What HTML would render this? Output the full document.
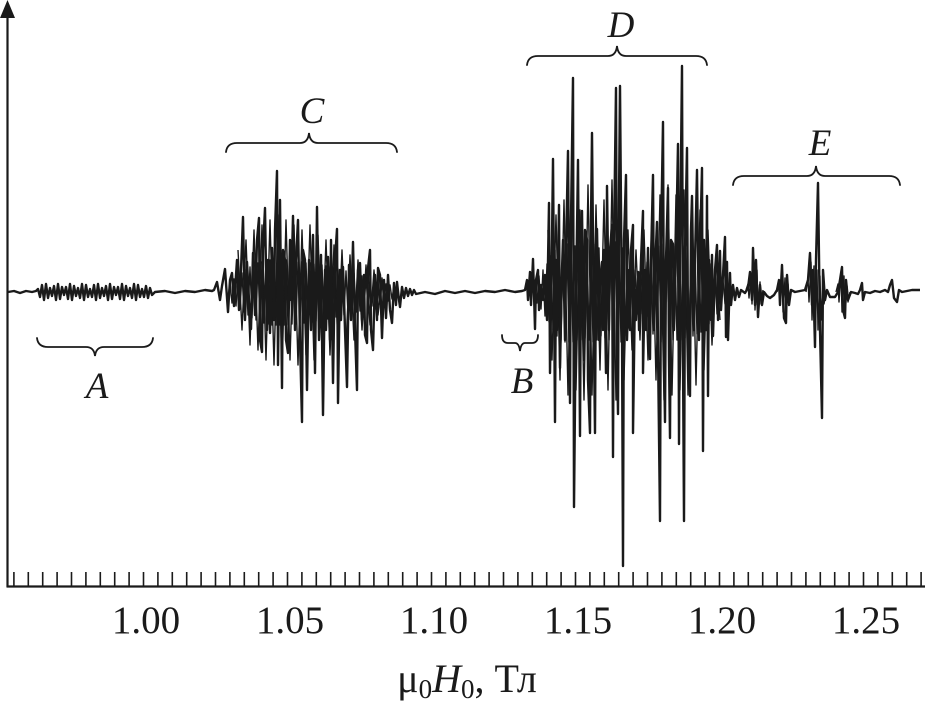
<!DOCTYPE html>
<html>
<head>
<meta charset="utf-8">
<style>
html,body{margin:0;padding:0;background:#fff;}
svg{display:block;}
text{font-family:"Liberation Serif","Times New Roman","DejaVu Serif",serif;fill:#1a1a1a;}
</style>
</head>
<body>
<svg width="925" height="708" viewBox="0 0 925 708" xmlns="http://www.w3.org/2000/svg" font-family="'Liberation Serif', 'Times New Roman', serif">
<!-- axes -->
<line x1="7.5" y1="14" x2="7.5" y2="587" stroke="#1a1a1a" stroke-width="2.2"/>
<polygon points="7.5,0 0,18 15,18" fill="#1a1a1a"/>
<line x1="6.5" y1="586.5" x2="925" y2="586.5" stroke="#1a1a1a" stroke-width="2.2"/>
<path stroke="#1a1a1a" stroke-width="1.6" fill="none" d="M13.9 572V586M28.3 572V586M42.7 572V586M57.1 572V586M71.5 572V586M85.9 572V586M100.3 572V586M114.7 572V586M129.1 572V586M143.5 572V586M157.9 572V586M172.3 572V586M186.7 572V586M201.1 572V586M215.5 572V586M229.9 572V586M244.3 572V586M258.7 572V586M273.1 572V586M287.5 572V586M301.9 572V586M316.3 572V586M330.7 572V586M345.1 572V586M359.5 572V586M373.9 572V586M388.3 572V586M402.7 572V586M417.1 572V586M431.5 572V586M445.9 572V586M460.3 572V586M474.7 572V586M489.1 572V586M503.5 572V586M517.9 572V586M532.3 572V586M546.7 572V586M561.1 572V586M575.5 572V586M589.9 572V586M604.3 572V586M618.7 572V586M633.1 572V586M647.5 572V586M661.9 572V586M676.3 572V586M690.7 572V586M705.1 572V586M719.5 572V586M733.9 572V586M748.3 572V586M762.7 572V586M777.1 572V586M791.5 572V586M805.9 572V586M820.3 572V586M834.7 572V586M849.1 572V586M863.5 572V586M877.9 572V586M892.3 572V586M906.7 572V586M921.1 572V586"/>

<!-- tick labels -->
<g font-size="39" text-anchor="middle" font-family="'Liberation Serif', 'Times New Roman', serif">
<text x="146" y="633">1.00</text>
<text x="290" y="633">1.05</text>
<text x="434" y="633">1.10</text>
<text x="578" y="633">1.15</text>
<text x="722" y="633">1.20</text>
<text x="866" y="633">1.25</text>
</g>
<!-- axis title -->
<text x="467" y="692" font-size="40" text-anchor="middle" font-family="'Liberation Serif', 'Times New Roman', serif">μ<tspan font-size="27" dy="6">0</tspan><tspan font-style="italic" dy="-6">H</tspan><tspan font-size="27" dy="6">0</tspan><tspan dy="-6">, Тл</tspan></text>

<!-- medium amplitude layer -->
<path fill="none" stroke="#1a1a1a" stroke-width="1.4" stroke-linejoin="round" d="M238 250 L242 330 L246 240 L250 345 L254 230 L258 350 L262 225 L266 360 L270 220 L274 365 L278 215 L282 370 L286 220 L290 360 L294 225 L298 365 L302 230 L306 355 L310 225 L314 360 L318 235 L322 350 L326 240 L330 355 L334 245 L338 345 L342 250 L346 345 L350 255 L354 340 L358 260 L362 330 L366 265 L370 325 L374 270 L378 315 L382 278 L386 308
M548 230 L552 360 L556 215 L560 380 L564 200 L568 395 L572 190 L576 390 L580 210 L584 400 L588 185 L592 395 L596 205 L600 370 L604 200 L608 390 L612 180 L616 400 L620 190 L624 380 L628 230 L632 350 L636 250 L640 340 L644 230 L648 360 L652 210 L656 380 L660 195 L664 400 L668 185 L672 395 L676 195 L680 390 L684 190 L688 395 L692 200 L696 385 L700 210 L704 370 L708 230 L712 345 L716 255 L720 320"/>

<!-- waveform core fill (dense oscillations) -->
<path fill="none" stroke="#1a1a1a" stroke-width="1.4" stroke-linejoin="round" d="M226 286 L228 299 L230 282 L232 303 L234 279 L236 306 L238 276 L240 309 L242 273 L244 312 L246 270 L248 315 L250 267 L252 318 L254 265 L256 320 L258 263 L260 322 L262 262 L264 323 L266 261 L268 324 L270 260 L272 325 L274 260 L276 325 L278 260 L280 325 L282 260 L284 325 L286 260 L288 325 L290 261 L292 324 L294 261 L296 324 L298 262 L300 323 L302 262 L304 323 L306 263 L308 322 L310 263 L312 322 L314 264 L316 321 L318 264 L320 321 L322 265 L324 320 L326 266 L328 319 L330 267 L332 318 L334 268 L336 317 L338 269 L340 316 L342 270 L344 315 L346 271 L348 314 L350 272 L352 313 L354 273 L356 312 L358 274 L360 311 L362 276 L364 309 L366 277 L368 308 L370 278 L372 306 L374 280 L376 305 L378 281 L380 304 L382 282 L384 302 L386 284 L388 301 L390 285 L392 299 L394 287 L396 297
M535 282 L537 303 L539 276 L541 309 L543 270 L545 316 L547 264 L549 322 L551 256 L553 330 L555 250 L557 336 L559 246 L561 340 L563 244 L565 342 L567 244 L569 342 L571 244 L573 342 L575 246 L577 340 L579 246 L581 340 L583 248 L585 338 L587 246 L589 340 L591 244 L593 342 L595 244 L597 340 L599 248 L601 336 L603 250 L605 338 L607 246 L609 340 L611 244 L613 342 L615 242 L617 344 L619 244 L621 342 L623 248 L625 336 L627 256 L629 328 L631 264 L633 318 L635 270 L637 314 L639 272 L641 314 L643 270 L645 318 L647 262 L649 326 L651 256 L653 334 L655 250 L657 340 L659 246 L661 342 L663 244 L665 344 L667 244 L669 342 L671 246 L673 340 L675 246 L677 340 L679 246 L681 340 L683 246 L685 338 L687 248 L689 338 L691 250 L693 336 L695 252 L697 334 L699 254 L701 332 L703 256 L705 328 L707 260 L709 324 L711 264 L713 320 L715 270 L717 314 L719 276 L721 308 L723 280 L725 304 L727 284 L729 300
M746 290 L748 284 L749 298 L751 276 L752 304 L754 262 L755 310 L757 270 L758 312 L760 282 L761 304 L763 290
M777 292 L779 284 L780 300 L782 272 L783 312 L785 278 L786 318 L788 284 L789 304 L791 292
M806 292 L808 278 L809 302 L811 262 L812 320 L814 266 L815 340 L817 270 L818 330 L820 276 L821 320 L823 282 L824 304 L826 292
M836 292 L838 284 L839 302 L841 272 L842 312 L844 276 L845 316 L847 286 L848 302 L850 292"/>

<!-- waveform -->
<path fill="none" stroke="#1a1a1a" stroke-width="2.4" stroke-linejoin="round" d="M8 292 L14 291 L20 293 L26 291 L32 292 L36 291
L38 289 L40 297 L42 285 L44 300 L46 284 L48 298 L50 288 L52 296 L54 286 L56 300 L58 284 L60 299 L62 287 L64 295 L66 287 L68 299 L70 284 L72 300 L74 286 L76 296 L78 288 L80 298 L82 284 L84 300 L86 285 L88 297 L90 289 L92 297 L94 285 L96 300 L98 284 L100 298 L102 288 L104 296 L106 286 L108 300 L110 284 L112 299 L114 287 L116 295 L118 287 L120 299 L122 284 L124 300 L126 286 L128 296 L130 288 L132 298 L134 284 L136 300 L138 285 L140 297 L142 289 L144 297 L146 286 L148 298 L150 288 L152 295 L155 292
L165 291 L175 293 L185 291 L195 292 L205 290 L212 291
L214 290 L217 282 L220 300 L222 286 L225 269 L228 312 L230 280 L232 273 L234 306 L237 260 L239 310 L241 270 L243 217 L245 320 L247 262 L249 300 L251 329 L253 253 L255 315 L257 240 L259 218 L260 340 L262 352 L263 250 L265 208 L267 330 L268 260 L270 333 L272 248 L274 320 L275 230 L277 171 L278 365 L280 200 L282 388 L283 250 L285 260 L286 340 L288 353 L290 240 L291 300 L293 216 L295 330 L296 260 L298 220 L300 340 L302 422 L303 250 L305 260 L307 390 L309 260 L311 330 L313 235 L315 373 L317 207 L319 340 L321 255 L323 415 L325 270 L326 330 L328 257 L330 340 L331 240 L333 383 L335 260 L337 229 L338 403 L340 270 L341 320 L343 267 L345 330 L347 387 L349 265 L351 320 L353 242 L355 330 L357 390 L358 270 L360 263 L362 320 L364 275 L365 335 L367 343 L368 268 L370 250 L371 330 L373 350 L375 275 L377 320 L378 268 L380 275 L382 338 L384 280 L386 318 L388 275 L390 310 L392 323 L394 283 L396 305 L397 282 L399 300 L400 307 L402 287 L404 298 L406 288 L408 296 L410 289 L412 295 L414 290 L416 294
L425 292 L435 294 L445 291 L455 293 L465 291 L475 293 L485 291 L495 292 L505 290 L515 292 L522 291
L525 290 L527 280 L528 300 L530 272 L531 305 L533 259 L535 329 L536 280 L538 270 L539 310 L541 285 L543 300 L545 275 L547 320 L549 203 L550 373 L552 240 L553 159 L555 422 L556 260 L557 330 L559 205 L560 368 L562 270 L563 240 L565 340 L566 250 L568 151 L570 403 L571 220 L573 78 L574 507 L576 300 L578 160 L580 436 L581 250 L582 211 L584 360 L585 230 L587 240 L588 380 L590 433 L591 220 L592 133 L594 350 L595 433 L596 250 L597 229 L599 340 L600 280 L602 262 L603 330 L604 250 L606 373 L607 186 L609 330 L610 250 L612 225 L613 457 L614 240 L616 88 L617 350 L618 414 L619 200 L620 86 L622 330 L623 566 L624 240 L626 175 L627 340 L629 270 L630 330 L631 250 L633 225 L633 433 L635 290 L636 320 L638 272 L639 330 L641 260 L643 211 L643 373 L645 270 L646 330 L648 248 L649 340 L650 359 L651 260 L653 175 L654 330 L655 270 L657 222 L658 350 L660 521 L661 240 L663 122 L664 360 L665 422 L666 260 L668 188 L669 360 L670 438 L671 240 L673 244 L674 330 L676 250 L678 144 L679 444 L680 250 L682 66 L683 360 L684 521 L685 250 L687 148 L688 340 L690 396 L691 230 L692 196 L694 330 L695 260 L697 170 L699 340 L700 250 L702 168 L703 451 L704 240 L706 330 L707 196 L708 396 L709 260 L711 320 L712 255 L713 336 L715 270 L717 245 L718 320 L720 251 L721 310 L723 275 L725 237 L726 337 L727 262 L728 340 L730 273 L731 305 L733 285 L735 300 L737 288 L739 297 L741 290
L745 293 L748 288 L750 272 L752 300 L753 248 L755 305 L756 260 L758 317 L760 285 L762 305 L764 292 L767 296 L770 298 L774 295 L777 290 L779 280 L780 305 L782 265 L784 318 L786 323 L787 275 L789 305 L791 290 L795 292 L800 291 L805 290 L808 280 L810 253 L812 305 L813 270 L815 347 L816 260 L818 183 L820 330 L822 418 L823 270 L825 300 L827 290 L830 297 L835 297 L838 292 L840 280 L842 267 L843 310 L845 318 L846 280 L848 300 L851 292 L855 293 L858 294 L860 290 L862 283 L863 300 L865 292 L870 293 L875 291 L880 292 L885 290 L888 292 L890 285 L892 280 L894 298 L897 302 L899 290 L902 292 L907 291 L912 290 L920 290"/>

<!-- braces -->
<g fill="none" stroke="#1a1a1a" stroke-width="1.8" stroke-linecap="round">
<path d="M37 338 Q38 347 48 347 L86 347 Q94 347 95 356 Q96 347 104 347 L142 347 Q152 347 153 338"/>
<path d="M502 335 Q502 343 508 343 L515 343 Q519 343 520 351 Q521 343 525 343 L532 343 Q538 343 538 335"/>
<path d="M226 152 Q227 143 237 143 L300 143 Q308 143 309 133 Q310 143 318 143 L386 143 Q396 143 397 152"/>
<path d="M527 65 Q528 56 538 56 L608 56 Q616 56 617 46 Q618 56 626 56 L696 56 Q706 56 707 65"/>
<path d="M733 185 Q734 176 744 176 L807 176 Q815 176 816 166 Q817 176 825 176 L889 176 Q899 176 900 185"/>
</g>

<!-- region letters -->
<g font-size="37" font-style="italic" text-anchor="middle" font-family="'Liberation Serif', 'Times New Roman', serif">
<text x="97" y="398">A</text>
<text x="522" y="393">B</text>
<text x="312" y="123">C</text>
<text x="621" y="37">D</text>
<text x="820" y="155">E</text>
</g>
</svg>
</body>
</html>
